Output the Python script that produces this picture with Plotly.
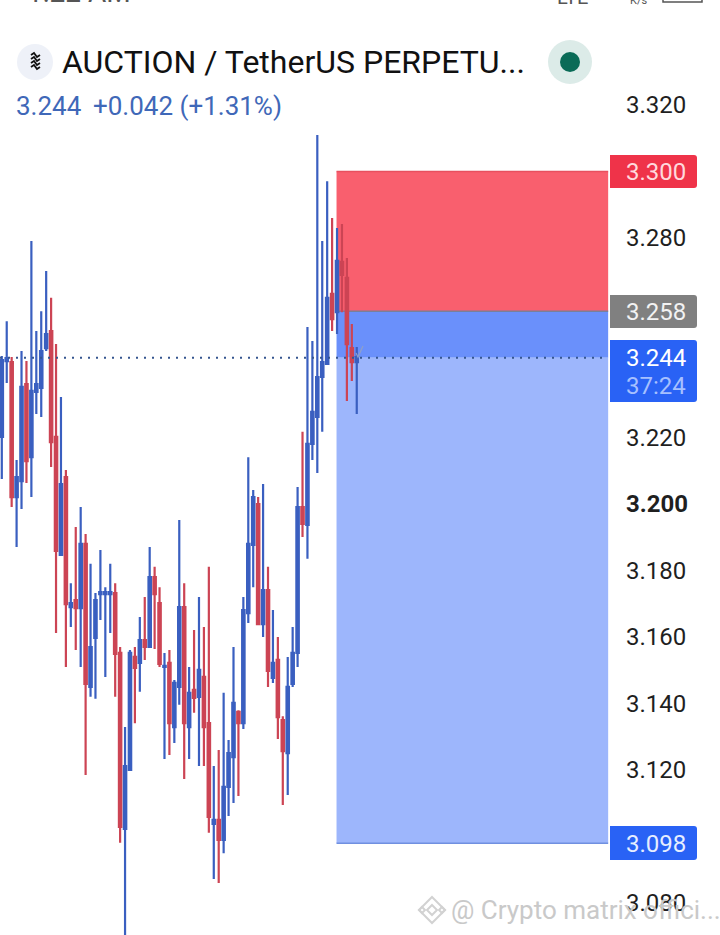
import plotly.graph_objects as go

# OHLC, left to right
opens = [3.2202, 3.2430, 3.2427, 3.2021, 3.2069, 3.2361, 3.2141, 3.2337, 3.2349, 3.2469,
         3.2520, 3.2202, 3.1847, 3.2081, 3.1690, 3.1711, 3.1687, 3.1880, 3.1450, 3.1597,
         3.1729, 3.1729, 3.1729, 3.1732, 3.1552, 3.1023, 3.1200, 3.1540, 3.1522, 3.1591,
         3.1570, 3.1780, 3.1702, 3.1510, 3.1522, 3.1329, 3.1450, 3.1690, 3.1329, 3.1441,
         3.1420, 3.1480, 3.1341, 3.1038, 3.1050, 3.0990, 3.1149, 3.1239, 3.1375, 3.1341,
         3.1672, 3.1877, 3.2000, 3.1639, 3.1741, 3.1477, 3.1531, 3.1350, 3.1251, 3.1459,
         3.1552, 3.1991, 3.1937, 3.2181, 3.2262, 3.2382, 3.2421, 3.2632, 3.2577, 3.2728,
         3.2680, 3.2469, 3.2427]
highs = [3.2445, 3.2550, 3.2442, 3.2132, 3.2460, 3.2430, 3.2791, 3.2520, 3.2580, 3.2701,
         3.2620, 3.2481, 3.2322, 3.2102, 3.1762, 3.1931, 3.1991, 3.1910, 3.1820, 3.1732,
         3.1862, 3.1750, 3.1820, 3.1762, 3.1570, 3.1329, 3.1561, 3.1570, 3.1660, 3.1720,
         3.1871, 3.1811, 3.1750, 3.1552, 3.1561, 3.1471, 3.1952, 3.1762, 3.1510, 3.1621,
         3.1720, 3.1630, 3.1811, 3.1212, 3.1260, 3.1432, 3.1290, 3.1570, 3.1380, 3.1720,
         3.2141, 3.2042, 3.2021, 3.2060, 3.1811, 3.1681, 3.1600, 3.1362, 3.1540, 3.1630,
         3.2051, 3.2217, 3.2532, 3.2490, 3.3110, 3.2791, 3.2971, 3.2860, 3.2830, 3.2842,
         3.2740, 3.2541, 3.2472]
lows = [3.2075, 3.2364, 3.1991, 3.1871, 3.1985, 3.2063, 3.2021, 3.2271, 3.2262, 3.2460,
        3.2111, 3.1612, 3.1847, 3.1510, 3.1630, 3.1561, 3.1510, 3.1185, 3.1420, 3.1414,
        3.1651, 3.1480, 3.1612, 3.1420, 3.0981, 3.0689, 3.1200, 3.1341, 3.1435, 3.1531,
        3.1570, 3.1564, 3.1510, 3.1233, 3.1245, 3.1281, 3.1396, 3.1173, 3.1233, 3.1372,
        3.1212, 3.1212, 3.1011, 3.0872, 3.0860, 3.0950, 3.1062, 3.1101, 3.1122, 3.1323,
        3.1642, 3.1750, 3.1639, 3.1600, 3.1450, 3.1462, 3.1293, 3.1095, 3.1125, 3.1450,
        3.1510, 3.1901, 3.1835, 3.2132, 3.2093, 3.2217, 3.2421, 3.2520, 3.2511, 3.2577,
        3.2310, 3.2370, 3.2271]
closes = [3.2433, 3.2439, 3.2021, 3.2081, 3.2352, 3.2129, 3.2340, 3.2361, 3.2460, 3.2511,
          3.2186, 3.1859, 3.2060, 3.1699, 3.1702, 3.1687, 3.1880, 3.1459, 3.1570, 3.1711,
          3.1735, 3.1735, 3.1735, 3.1549, 3.1029, 3.1212, 3.1552, 3.1507, 3.1591, 3.1570,
          3.1780, 3.1729, 3.1519, 3.1513, 3.1341, 3.1462, 3.1690, 3.1341, 3.1432, 3.1417,
          3.1501, 3.1329, 3.1059, 3.1050, 3.0990, 3.1149, 3.1251, 3.1402, 3.1341, 3.1681,
          3.1880, 3.2021, 3.1639, 3.1741, 3.1498, 3.1522, 3.1359, 3.1257, 3.1450, 3.1552,
          3.1991, 3.1940, 3.2181, 3.2277, 3.2382, 3.2427, 3.2620, 3.2556, 3.2731, 3.2689,
          3.2481, 3.2427, 3.2442]
candle_index = list(range(len(opens)))

tick_vals = [3.32, 3.28, 3.22, 3.20, 3.18, 3.16, 3.14, 3.12, 3.08]
tick_text = ["3.320", "3.280", "3.220", "<b>3.200</b>", "3.180", "3.160", "3.140", "3.120", "3.080"]

stop_price = 3.300
entry_price = 3.258
last_price = 3.244
target_price = 3.098
plan_start = 67.9
plan_end = 123.0

W, H = 720, 935
PLOT_W = 620
BLUE = "#3a5fc0"
RED = "#cc4454"
TEXT = "#1f1f1f"


def px(x):
    return x / PLOT_W


def py(y):
    return 1 - y / H


def badge(x0, y0, x1, y1, color, r=3):
    path = (f"M {px(x0 + r)} {py(y0)} L {px(x1 - r)} {py(y0)} Q {px(x1)} {py(y0)} {px(x1)} {py(y0 + r)} "
            f"L {px(x1)} {py(y1 - r)} Q {px(x1)} {py(y1)} {px(x1 - r)} {py(y1)} "
            f"L {px(x0)} {py(y1)} L {px(x0)} {py(y0)} Z")
    return dict(type="path", xref="paper", yref="paper", path=path, fillcolor=color, line_width=0)


def disc(cx, cy, r, color):
    return dict(type="circle", xref="paper", yref="paper", x0=px(cx - r), x1=px(cx + r),
                y0=py(cy + r), y1=py(cy - r), fillcolor=color, line_width=0)


def label(x, y, text, size, color, anchor="left", family="Roboto", yanchor="middle"):
    return dict(xref="paper", yref="paper", x=px(x), y=py(y), text=text, showarrow=False,
                xanchor=anchor, yanchor=yanchor, font=dict(size=size, color=color, family=family))


def plan_rect(y0, y1, color):
    return dict(type="rect", layer="below", xref="x", yref="y", x0=plan_start, x1=plan_end, y0=y0, y1=y1,
                fillcolor=color, line=dict(width=0), opacity=1)


fig = go.Figure(go.Candlestick(
    x=candle_index, open=opens, high=highs, low=lows, close=closes,
    increasing=dict(line=dict(color=BLUE, width=2.2), fillcolor=BLUE),
    decreasing=dict(line=dict(color=RED, width=2.2), fillcolor=RED),
    whiskerwidth=0,
))

shapes = [
    plan_rect(entry_price, stop_price, "#f95f6e"),
    plan_rect(last_price, entry_price, "#6a90fb"),
    plan_rect(target_price, last_price, "#9db6fc"),
    dict(type="line", layer="below", xref="x", yref="y", x0=plan_start, x1=plan_end, y0=stop_price, y1=stop_price,
         line=dict(color="#e8505f", width=1.5)),
    dict(type="line", layer="below", xref="x", yref="y", x0=plan_start, x1=plan_end, y0=entry_price, y1=entry_price,
         line=dict(color="#7a7f9a", width=1.5)),
    dict(type="line", layer="below", xref="x", yref="y", x0=plan_start, x1=plan_end, y0=target_price, y1=target_price,
         line=dict(color="#7090e0", width=1.5)),
    dict(type="line", xref="paper", yref="y", x0=0, x1=px(608), y0=last_price, y1=last_price,
         line=dict(color="#35558f", width=2, dash="2px,6px")),
    # little check mark beside the last candle
    dict(type="path", xref="paper", yref="paper",
         path=f"M {px(356)} {py(353)} L {px(358)} {py(357)} L {px(363)} {py(346)}",
         line=dict(color="#8fa0c8", width=1.2)),
    # price badges
    badge(610, 155, 697, 188, "#ef3349"),
    badge(610, 295, 697, 328, "#808080"),
    badge(610, 340, 697, 402, "#2962f5"),
    badge(610, 826, 697, 860, "#2962f5"),
    # header icons
    disc(35, 62, 18, "#eef1f8"),
    disc(570, 62, 22, "#dcebe8"),
    disc(570, 62, 10, "#0a6b57"),
    # battery outline, cut by the top edge
    dict(type="rect", xref="paper", yref="paper", x0=px(663), x1=px(702), y0=py(2), y1=py(-8),
         line=dict(color="#555555", width=1.5)),
]
# coin logo strokes
for y_mark in (55, 59, 63, 67):
    shapes.append(dict(type="path", xref="paper", yref="paper",
                       path=f"M {px(31)} {py(y_mark)} L {px(34)} {py(y_mark - 2)} L {px(37)} {py(y_mark + 2)} L {px(40)} {py(y_mark)}",
                       line=dict(color="#111111", width=1.8)))
# watermark logo
for cx, cy, r in ((432, 910, 13), (432, 910, 5), (422, 910, 3), (442, 910, 3)):
    shapes.append(dict(type="path", xref="paper", yref="paper",
                       path=f"M {px(cx)} {py(cy - r)} L {px(cx + r)} {py(cy)} L {px(cx)} {py(cy + r)} L {px(cx - r)} {py(cy)} Z",
                       line=dict(color="#d2d2d2", width=2)))

annotations = [
    label(25, 11, "1:22 AM", 28, "#555555", yanchor="bottom"),
    label(555, 11, "LTE", 20, "#555555", yanchor="bottom"),
    label(628, 9, "K/s", 11, "#555555", yanchor="bottom"),
    label(60, 62, "AUCTION / TetherUS PERPETU...", 32, "#111111"),
    label(14, 106, "3.244", 26, "#3f68b8"),
    label(91, 106, "+0.042 (+1.31%)", 26, "#3f68b8"),
    label(656, 172, "3.300", 24, "#ffd9dd", anchor="center"),
    label(656, 312, "3.258", 24, "#f2f2f2", anchor="center"),
    label(656, 358, "3.244", 24, "#ffffff", anchor="center"),
    label(656, 386, "37:24", 24, "#a6c0ff", anchor="center"),
    label(656, 844, "3.098", 24, "#e6eeff", anchor="center"),
    label(449, 910, "@ Crypto matrix offici...", 26, "#c9c9c9"),
]

fig.update_layout(
    width=W,
    height=H,
    margin=dict(l=0, r=W - PLOT_W, t=0, b=0),
    paper_bgcolor="white",
    plot_bgcolor="white",
    showlegend=False,
    shapes=shapes,
    annotations=annotations,
    xaxis=dict(range=[-0.365, 125.4], visible=False, rangeslider=dict(visible=False), fixedrange=True),
    yaxis=dict(range=[3.07038, 3.35158], side="right", showgrid=False, zeroline=False, showline=False,
               ticks="", tickmode="array", tickvals=tick_vals, ticktext=tick_text,
               tickfont=dict(family="Roboto", size=24, color=TEXT), ticklabelstandoff=5, fixedrange=True),
)

# the page's default body margin would push the chart 8px off
fig.write_html("out.html", config=dict(displayModeBar=False), post_script="document.body.style.margin='0';")
